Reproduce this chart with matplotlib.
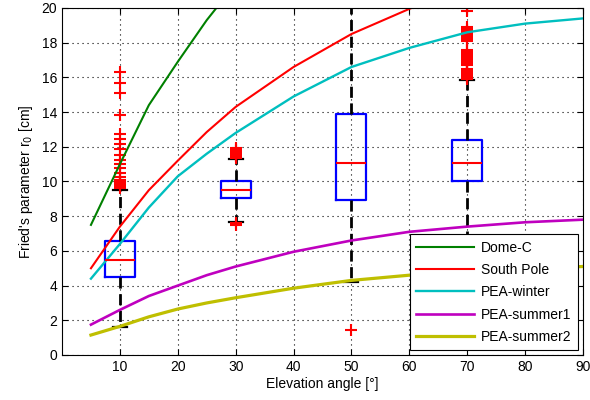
import numpy as np
import matplotlib.pyplot as plt

plt.rcParams['font.family'] = ['Liberation Sans', 'DejaVu Sans']

#------------------------------------------------------------ model curves
angle = [5, 10, 15, 20, 25, 30, 40, 50, 60, 70, 80, 90]

domec_angle = [5, 10, 15, 20, 25, 30]
domec = [7.5, 11.0, 14.4, 16.9, 19.3, 21.4]

spole_angle = [5, 10, 15, 20, 25, 30, 40, 50, 60, 70]
spole = [5.0, 7.4, 9.5, 11.2, 12.85, 14.3, 16.6, 18.5, 19.95, 21.2]

pea_winter = [4.4, 6.4, 8.5, 10.3, 11.6, 12.8, 14.9, 16.6, 17.7, 18.6, 19.1, 19.4]
pea_summer1 = [1.75, 2.6, 3.4, 4.0, 4.6, 5.1, 5.95, 6.6, 7.1, 7.4, 7.65, 7.8]
pea_summer2 = [1.15, 1.65, 2.2, 2.65, 3.0, 3.3, 3.85, 4.3, 4.6, 4.85, 5.0, 5.1]

#---------------------------------------------------------- measured boxes
box_pos = [10, 30, 50, 70]
box_q1 = [4.5, 9.05, 8.95, 10.0]
box_med = [5.45, 9.5, 11.05, 11.05]
box_q3 = [6.55, 10.0, 13.9, 12.4]
box_lo = [1.6, 7.68, 4.2, 6.0]
box_hi = [9.5, 11.3, 21.0, 15.85]

fliers_10 = [16.3, 15.7, 15.1, 13.85, 12.75, 12.45, 12.15, 11.85, 11.55,
             11.25, 11.0, 10.75, 10.5, 10.25, 10.1, 9.95, 9.85, 9.75, 9.65]
fliers_30 = [11.35, 11.45, 11.55, 11.65, 11.75, 11.85, 11.95, 7.6, 7.5]
fliers_50 = [1.45]
fliers_70 = [15.9, 16.0, 16.1, 16.2, 16.3, 16.4, 16.5,
             16.7, 16.8, 16.9, 17.0, 17.1, 17.2, 17.3, 17.4, 17.5, 17.6,
             18.1, 18.2, 18.3, 18.4, 18.5, 18.6, 18.7, 18.8, 18.9,
             19.8, 20.05]
fliers = [fliers_10, fliers_30, fliers_50, fliers_70]

#------------------------------------------------------------------- figure
fig = plt.figure(figsize=(5.9, 4.0), dpi=100)
ax = fig.add_axes([0.1051, 0.1125, 0.883, 0.8675])

stats = []
for i in range(len(box_pos)):
    stats.append(dict(q1=box_q1[i], med=box_med[i], q3=box_q3[i],
                      whislo=box_lo[i], whishi=box_hi[i], fliers=fliers[i]))

ax.bxp(stats, positions=box_pos, widths=5.2, manage_ticks=False,
       boxprops=dict(color='blue', linewidth=1.6),
       medianprops=dict(color='red', linewidth=1.5),
       whiskerprops=dict(color='black', linewidth=2.0, dashes=(4, 2)),
       capprops=dict(color='black', linewidth=1.6),
       capwidths=2.4,
       flierprops=dict(marker='+', markeredgecolor='red', markersize=8,
                       markeredgewidth=1.5, linestyle='none'))

ax.plot(domec_angle, domec, color=(0, 0.5, 0), lw=1.5, label='Dome-C')
ax.plot(spole_angle, spole, color='red', lw=1.5, label='South Pole')
ax.plot(angle, pea_winter, color=(0, 0.75, 0.75), lw=1.7, label='PEA-winter')
ax.plot(angle, pea_summer1, color=(0.75, 0, 0.75), lw=1.9, label='PEA-summer1')
ax.plot(angle, pea_summer2, color=(0.75, 0.75, 0), lw=2.3, label='PEA-summer2')

ax.set_xlim(0, 90)
ax.set_ylim(0, 20)
ax.set_xticks(np.arange(10, 91, 10))
ax.set_yticks(np.arange(0, 21, 2))
ax.tick_params(direction='in', top=True, right=True, length=4, labelsize=10)
ax.grid(True, color='black', linestyle=(0, (1, 3.5)), linewidth=0.8)
ax.set_axisbelow(True)

ax.set_xlabel('Elevation angle [°]', fontsize=10, labelpad=2)
ax.set_ylabel(r"Fried's parameter r$_0$ [cm]", fontsize=10, labelpad=5)

leg = ax.legend(loc='lower right', fontsize=10, handlelength=4.2,
                handletextpad=0.5, fancybox=False, framealpha=1,
                edgecolor='black', borderaxespad=0.35, labelspacing=0.6,
                borderpad=0.45)
leg.get_frame().set_linewidth(0.8)

plt.savefig('out.png', dpi=100)
